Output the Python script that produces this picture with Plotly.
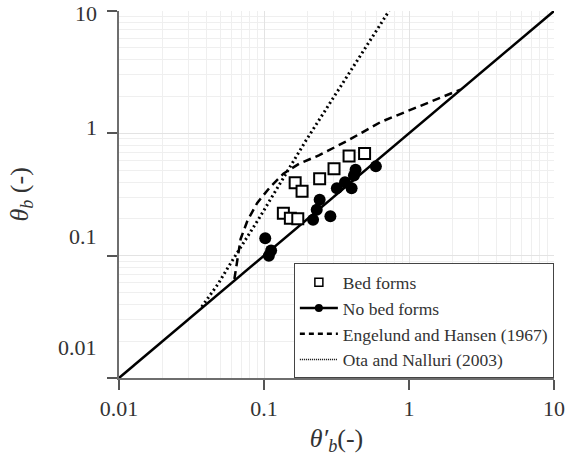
import math
import plotly.graph_objects as go

# Bed forms (open squares)
bed_x = [0.386, 0.494, 0.304, 0.242, 0.164, 0.183, 0.136, 0.152, 0.171]
bed_y = [0.652, 0.683, 0.514, 0.426, 0.394, 0.336, 0.222, 0.202, 0.200]

# No bed forms (filled circles)
nob_x = [0.591, 0.428, 0.417, 0.362, 0.402, 0.318, 0.242, 0.231, 0.287, 0.218, 0.102, 0.112, 0.108]
nob_y = [0.537, 0.503, 0.453, 0.399, 0.356, 0.356, 0.286, 0.237, 0.210, 0.197, 0.139, 0.110, 0.100]

# 1:1 line
line_x = [0.01, 10]
line_y = [0.01, 10]

# Engelund and Hansen (1967)
eh_x = [0.0625, 0.0657, 0.069, 0.077, 0.0898, 0.110, 0.136, 0.175, 0.239, 0.310, 0.381, 0.64, 0.942, 1.25, 1.66, 2.15, 2.27]
eh_y = [0.0644, 0.097, 0.137, 0.194, 0.270, 0.363, 0.468, 0.565, 0.661, 0.773, 0.877, 1.24, 1.50, 1.70, 1.96, 2.22, 2.28]

# Ota and Nalluri (2003)
on_x = [0.0372, 0.0482, 0.0593, 0.092, 0.195, 0.728]
on_y = [0.0382, 0.0586, 0.088, 0.200, 0.877, 10.0]

ytick_vals = [10, 1, 0.1, 0.01]
ytick_text = ["10", "1", "0.1", "0.01"]
xtick_vals = [0.01, 0.1, 1, 10]
xtick_text = ["0.01", "0.1", "1", "10"]

FONT = '"Liberation Serif", "Times New Roman", serif'
TXT = "#333333"

fig = go.Figure()

fig.add_trace(go.Scatter(x=line_x, y=line_y, mode="lines",
                         line=dict(color="black", width=2.5), showlegend=False))
fig.add_trace(go.Scatter(x=eh_x, y=eh_y, mode="lines",
                         line=dict(color="black", width=2.5, dash="8px,5px"), showlegend=False))
fig.add_trace(go.Scatter(x=on_x, y=on_y, mode="lines",
                         line=dict(color="black", width=3, dash="2px,3px"), showlegend=False))
fig.add_trace(go.Scatter(x=nob_x, y=nob_y, mode="markers",
                         marker=dict(symbol="circle", size=12, color="black"), showlegend=False))
fig.add_trace(go.Scatter(x=bed_x, y=bed_y, mode="markers",
                         marker=dict(symbol="square", size=11, color="white",
                                     line=dict(color="black", width=2)), showlegend=False))

# legend entries
fig.add_trace(go.Scatter(x=[None], y=[None], mode="markers", name="Bed forms",
                         marker=dict(symbol="square", size=8, color="white",
                                     line=dict(color="black", width=1.5))))
fig.add_trace(go.Scatter(x=[None], y=[None], mode="lines+markers", name="No bed forms",
                         line=dict(color="black", width=2.5),
                         marker=dict(symbol="circle", size=8, color="black")))
fig.add_trace(go.Scatter(x=[None], y=[None], mode="lines", name="Engelund and Hansen (1967)",
                         line=dict(color="black", width=2.5, dash="5px,4px")))
fig.add_trace(go.Scatter(x=[None], y=[None], mode="lines", name="Ota and Nalluri (2003)",
                         line=dict(color="black", width=1.5, dash="1px,1px")))

axis_common = dict(
    type="log",
    showgrid=True, gridcolor="#e3e3e3", gridwidth=1,
    minor=dict(showgrid=True, gridcolor="#efefef", gridwidth=1, ticks="", dtick="D1"),
    zeroline=False,
    showline=True, linecolor="#6e6e6e", linewidth=2,
    ticks="outside", ticklen=10, tickwidth=1.5, tickcolor="#555555",
    tickfont=dict(family=FONT, size=22, color=TXT),
)

fig.update_xaxes(**axis_common, range=[-2, 1],
                 tickvals=xtick_vals, ticktext=xtick_text,
                 title=dict(text="<i>θ′<sub>b</sub></i>(-)",
                            font=dict(family=FONT, size=26, color=TXT), standoff=8))
fig.update_yaxes(**axis_common, range=[-2, 1],
                 tickvals=ytick_vals, ticktext=ytick_text, showticklabels=False)

# y tick labels (placed as in the original figure)
yshifts = [-2, 6, 19, 31]
for v, t, s in zip(ytick_vals, ytick_text, yshifts):
    fig.add_annotation(x=0, xref="paper", y=math.log10(v), yref="y", text=t, showarrow=False,
                       xanchor="right", yanchor="middle", xshift=-20, yshift=s,
                       font=dict(family=FONT, size=22, color=TXT))

fig.add_annotation(x=0, xref="paper", y=0.5, yref="paper",
                   text="<i>θ<sub>b</sub></i> (-)", showarrow=False, textangle=-90,
                   xanchor="center", yanchor="middle", xshift=-99,
                   font=dict(family=FONT, size=26, color=TXT))

fig.update_layout(
    width=576, height=466,
    margin=dict(l=119, r=12, t=11, b=88),
    paper_bgcolor="white", plot_bgcolor="white",
    legend=dict(x=0.402, y=0.312, xanchor="left", yanchor="top",
                bgcolor="white", bordercolor="#444444", borderwidth=1,
                font=dict(family=FONT, size=17.5, color=TXT),
                itemwidth=38, tracegroupgap=0),
)

fig.write_html("out.html")
